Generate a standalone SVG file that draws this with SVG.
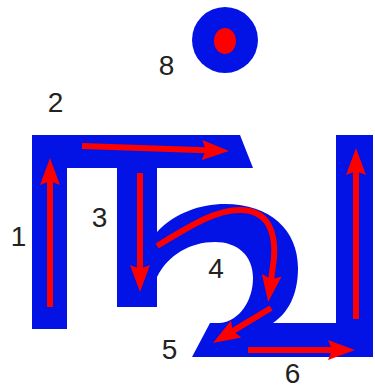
<svg xmlns="http://www.w3.org/2000/svg" width="375" height="388" viewBox="0 0 375 388">
<style>
.glyph{fill:#0313e6;}
.stroke{fill:none;stroke:#ff0000;stroke-width:6;marker-end:url(#head);}
.lbl{font-family:"Liberation Sans",Arial,sans-serif;font-size:28px;fill:#222;text-anchor:middle;}
</style>
<defs>
<marker id="head" markerUnits="userSpaceOnUse" markerWidth="30" markerHeight="24" viewBox="0 -12 30 24" refX="4" refY="0" orient="auto">
<path d="M0,-10 L27,0 L0,10 L4,0 Z" fill="#ff0000"/>
</marker>
</defs>
<g id="glyph">
<path class="glyph" d="M32,329 L32,135 L240,135 L253,168 L157,168 L157,232 C175,213 200,204 225,204 C270,204 298,230 298,268 C298,295 288,313 273,323 L336,323 L336,135 L373,135 L373,357 L192,357 L210,323 L220,323 C240,321 253,300 253,278 C253,255 237,242 215,242 C190,242 168,255 157,277 L157,307 L117,307 L117,168 L67,168 L67,329 Z"/>
</g>
<g id="dot">
<circle class="glyph" cx="225" cy="40" r="33"/>
<ellipse cx="225" cy="41" rx="11" ry="13" fill="#ff0000"/>
</g>
<g id="connectors">
<path id="s1" class="stroke" d="M50,307 L50,181"/>
<path id="s2" class="stroke" d="M82,146 L206,150.2"/>
<path id="s3" class="stroke" d="M140,173 L140,269"/>
<path id="s4" class="stroke" d="M157,246 C190,226 215,210 240,210 C268,210 276,232 274,258 L271.2,279.2"/>
<path id="s5" class="stroke" d="M271,308 L232.7,331.1"/>
<path id="s6" class="stroke" d="M248,350 L332,350"/>
<path id="s7" class="stroke" d="M356,319 L356,171"/>
</g>
<g id="labels">
<text class="lbl" x="18.5" y="246">1</text>
<text class="lbl" x="55.5" y="112">2</text>
<text class="lbl" x="99.5" y="227">3</text>
<text class="lbl" x="216" y="278">4</text>
<text class="lbl" x="169.5" y="359">5</text>
<text class="lbl" x="292.5" y="383">6</text>
<text class="lbl" x="166.5" y="75">8</text>
</g>
</svg>
